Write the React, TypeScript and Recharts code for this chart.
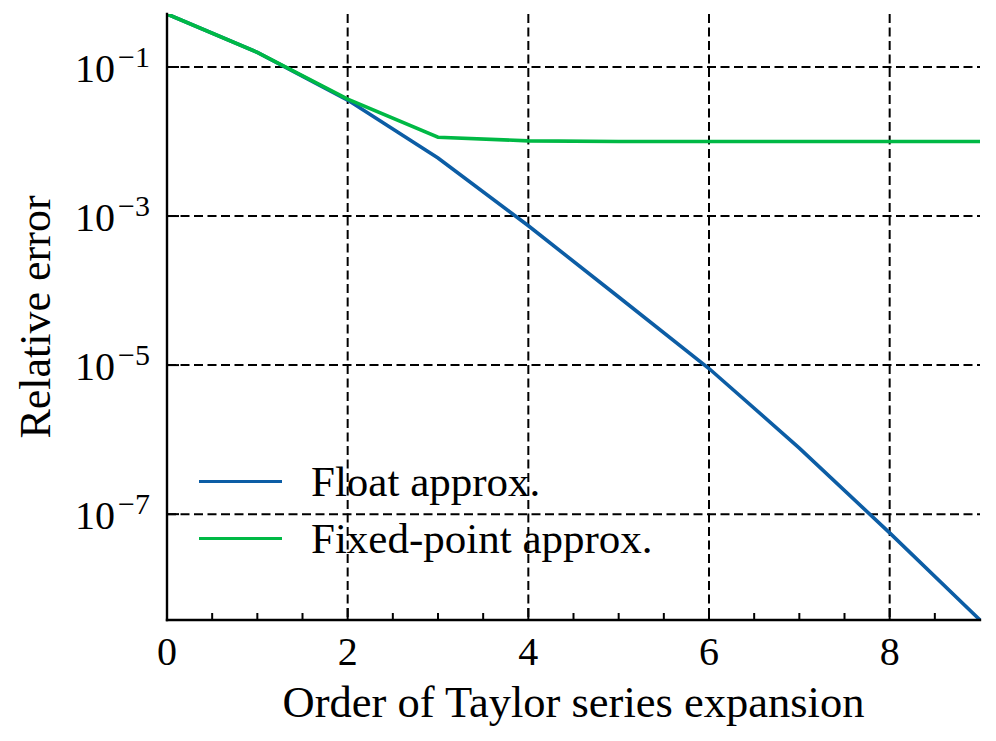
import React from 'react';
import { LineChart, Line, XAxis, YAxis, CartesianGrid, Legend } from 'recharts';

const orders = [0, 1, 2, 3, 4, 5, 6, 7, 8, 9];
const floatError = [0.514, 0.157, 0.036, 0.006, 7.4e-4, 8.2e-5, 9.0e-6, 7.7e-7, 5.6e-8, 3.8e-9];
const fixedError = [0.514, 0.157, 0.037, 0.0114, 0.0102, 0.01, 0.01, 0.01, 0.01, 0.01];

const xMajorTicks = [0, 2, 4, 6, 8];
const xAllTicks = [0, 0.5, 1, 1.5, 2, 2.5, 3, 3.5, 4, 4.5, 5, 5.5, 6, 6.5, 7, 7.5, 8, 8.5, 9];
const yTicks = [1e-1, 1e-3, 1e-5, 1e-7];
const gridX = [2, 4, 6, 8];

const series = [
  { key: 'float', name: 'Float approx.', color: '#0C5DA5' },
  { key: 'fixed', name: 'Fixed-point approx.', color: '#00B945' },
];

const data = orders.map((order, i) => ({ order, float: floatError[i], fixed: fixedError[i] }));
const xDomain = [orders[0], orders[orders.length - 1]];
const yDomain = [Math.min(...floatError), Math.max(...floatError)];

const FONT = '"Liberation Serif", "Times New Roman", serif';
const AXIS = { stroke: '#000', strokeWidth: 2.4, strokeLinecap: 'square' as const };

function BottomTick({ x, y, payload }: any) {
  const v = payload.value;
  const major = xMajorTicks.includes(v);
  const inside = v > xDomain[0] && v < xDomain[1];
  return (
    <g>
      {inside && <line x1={x} x2={x} y1={y} y2={y - (major ? 12 : 7)} stroke="#000" strokeWidth={2} />}
      {major && (
        <text x={x} y={y + 45} textAnchor="middle" fontSize={40} fontFamily={FONT} fill="#000">
          {v}
        </text>
      )}
    </g>
  );
}

function TopTick({ x, y, payload }: any) {
  const v = payload.value;
  const major = xMajorTicks.includes(v);
  if (v <= xDomain[0] || v >= xDomain[1]) return <g />;
  return <line x1={x} x2={x} y1={y} y2={y + (major ? 12 : 7)} stroke="#000" strokeWidth={2} />;
}

function LeftTick({ x, y, payload }: any) {
  const exp = Math.round(Math.log10(payload.value));
  return (
    <g>
      <line x1={x} x2={x + 12} y1={y} y2={y} stroke="#000" strokeWidth={2} />
      <text x={x - 17} y={y + 15} textAnchor="end" fontSize={40} fontFamily={FONT} fill="#000">
        10
        <tspan fontSize={30} dx={3} dy={-15}>{'\u2212' + Math.abs(exp)}</tspan>
      </text>
    </g>
  );
}

function RightTick({ x, y }: any) {
  return <line x1={x - 12} x2={x} y1={y} y2={y} stroke="#000" strokeWidth={2} />;
}

function renderLegend() {
  return (
    <div>
      {series.map((s) => (
        <div key={s.key} style={{ display: 'flex', alignItems: 'center', height: 57 }}>
          <div style={{ width: 83, height: 3.6, background: s.color, marginRight: 29 }} />
          <span style={{ fontFamily: FONT, fontSize: 43, lineHeight: '57px', color: '#000', whiteSpace: 'nowrap' }}>
            {s.name}
          </span>
        </div>
      ))}
    </div>
  );
}

export default function App() {
  return (
    <div style={{ position: 'absolute', left: 0, top: 0, width: 996, height: 741, background: '#fff' }}>
      <LineChart width={996} height={741} data={data} margin={{ top: 14, right: 16, bottom: 0, left: 0 }}>
        <CartesianGrid
          stroke="#000"
          strokeWidth={2}
          strokeDasharray="9 4.5"
          verticalValues={gridX}
          horizontalValues={yTicks}
        />
        <XAxis
          dataKey="order"
          type="number"
          domain={xDomain}
          ticks={xAllTicks}
          interval={0}
          height={121}
          tickSize={0}
          tickMargin={0}
          tickLine={false}
          axisLine={AXIS}
          tick={<BottomTick />}
          label={{
            content: ({ viewBox }: any) => (
              <text
                x={viewBox.x + viewBox.width / 2}
                y={viewBox.y + 97}
                textAnchor="middle"
                fontSize={44.5}
                fontFamily={FONT}
                fill="#000"
              >
                Order of Taylor series expansion
              </text>
            ),
          }}
        />
        <XAxis
          xAxisId="top"
          orientation="top"
          type="number"
          domain={xDomain}
          ticks={xAllTicks}
          interval={0}
          height={0}
          tickSize={0}
          tickMargin={0}
          tickLine={false}
          axisLine={AXIS}
          tick={<TopTick />}
        />
        <YAxis
          scale="log"
          type="number"
          domain={yDomain}
          allowDataOverflow
          ticks={yTicks}
          interval={0}
          width={167}
          tickSize={0}
          tickMargin={0}
          tickLine={false}
          axisLine={AXIS}
          tick={<LeftTick />}
          label={{
            content: ({ viewBox }: any) => {
              const cx = 50;
              const cy = viewBox.y + viewBox.height / 2;
              return (
                <text
                  x={cx}
                  y={cy}
                  transform={`rotate(-90, ${cx}, ${cy})`}
                  textAnchor="middle"
                  fontSize={44}
                  fontFamily={FONT}
                  fill="#000"
                >
                  Relative error
                </text>
              );
            },
          }}
        />
        <YAxis
          yAxisId="right"
          orientation="right"
          scale="log"
          type="number"
          domain={yDomain}
          allowDataOverflow
          ticks={yTicks}
          interval={0}
          width={0}
          tickSize={0}
          tickMargin={0}
          tickLine={false}
          axisLine={AXIS}
          tick={<RightTick />}
        />
        {series.map((s) => (
          <Line
            key={s.key}
            type="linear"
            dataKey={s.key}
            name={s.name}
            stroke={s.color}
            strokeWidth={3.6}
            dot={false}
            activeDot={false}
            isAnimationActive={false}
          />
        ))}
        <Legend
          layout="vertical"
          verticalAlign="middle"
          align="center"
          wrapperStyle={{ left: 199, top: 453, width: 'auto' }}
          content={renderLegend}
        />
      </LineChart>
    </div>
  );
}
